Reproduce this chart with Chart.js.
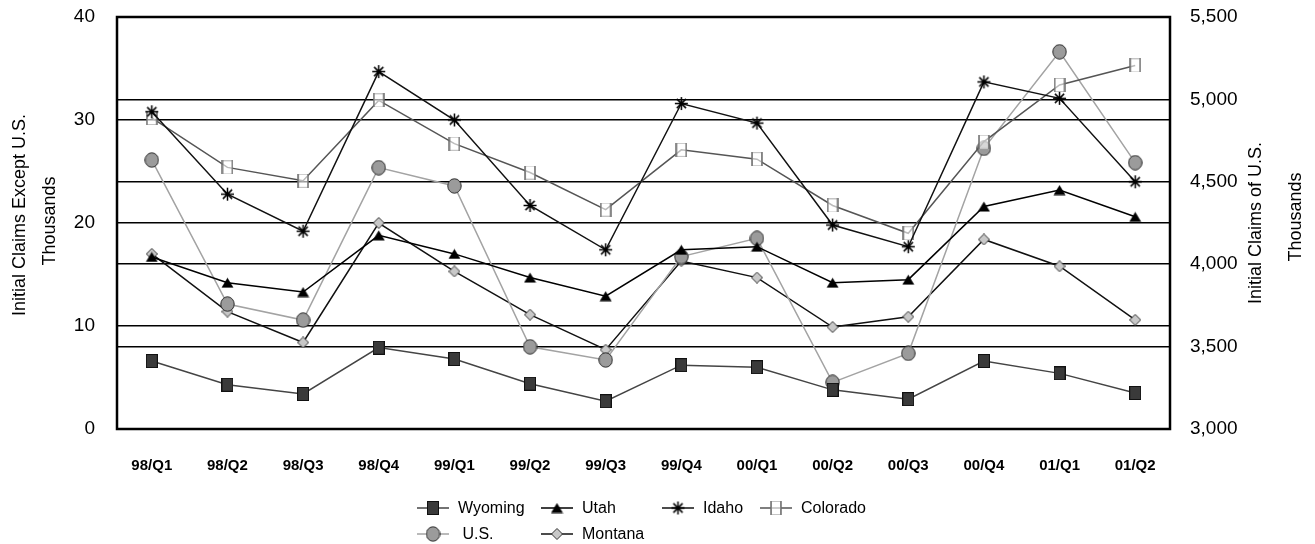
<!DOCTYPE html>
<html>
<head>
<meta charset="utf-8">
<script src="https://cdn.jsdelivr.net/npm/chart.js@4.4.1/dist/chart.umd.min.js"></script>
<style>
  html, body { margin: 0; padding: 0; background: #fff; }
</style>
</head>
<body>
<canvas id="claimsChart" width="1315" height="544"></canvas>
<script>
// quarterly initial claims, thousands (U.S. on its own right-hand axis)
const quarters = ['98/Q1', '98/Q2', '98/Q3', '98/Q4', '99/Q1', '99/Q2', '99/Q3',
                  '99/Q4', '00/Q1', '00/Q2', '00/Q3', '00/Q4', '01/Q1', '01/Q2'];
const wyoming  = [6.6, 4.3, 3.4, 7.9, 6.8, 4.4, 2.7, 6.2, 6.0, 3.8, 2.9, 6.6, 5.4, 3.5];
const utah     = [16.7, 14.2, 13.3, 18.8, 17.0, 14.7, 12.9, 17.4, 17.7, 14.2, 14.5, 21.6, 23.2, 20.6];
const idaho    = [30.8, 22.8, 19.2, 34.7, 30.0, 21.7, 17.4, 31.6, 29.7, 19.8, 17.7, 33.7, 32.1, 24.0];
const colorado = [30.2, 25.4, 24.1, 31.9, 27.7, 24.9, 21.3, 27.1, 26.2, 21.7, 19.0, 27.9, 33.4, 35.3];
const usTotal  = [4632, 3758, 3661, 4586, 4475, 3499, 3419, 4046, 4157, 3283, 3459, 4703, 5289, 4616];
const montana  = [17.0, 11.4, 8.4, 20.0, 15.3, 11.1, 7.7, 16.3, 14.7, 9.9, 10.9, 18.4, 15.8, 10.6];

const leftTicks  = { min: 0, max: 40, step: 10 };
const rightTicks = { min: 3000, max: 5500, step: 500 };
const leftTitle  = ['Initial Claims Except U.S.', 'Thousands'];
const rightTitle = ['Initial Claims of U.S.', 'Thousands'];

const FONT = '"Liberation Sans", Arial, Helvetica, sans-serif';

// small canvases used as point styles (and reused in the legend)
function marker(w, h, paint) {
  const c = document.createElement('canvas');
  c.width = w; c.height = h;
  paint(c.getContext('2d'), w, h);
  return c;
}

const squareMark = marker(12, 14, (ctx, w, h) => {
  ctx.fillStyle = '#3a3a3a';
  ctx.fillRect(0.5, 0.5, w - 1, h - 1);
  ctx.strokeStyle = '#111';
  ctx.lineWidth = 1;
  ctx.strokeRect(0.5, 0.5, w - 1, h - 1);
});

const triangleMark = marker(13, 11, (ctx, w, h) => {
  ctx.fillStyle = '#000';
  ctx.beginPath();
  ctx.moveTo(w / 2, 0.5);
  ctx.lineTo(w - 0.5, h - 0.5);
  ctx.lineTo(0.5, h - 0.5);
  ctx.closePath();
  ctx.fill();
});

const starMark = marker(15, 15, (ctx, w, h) => {
  const cx = w / 2, cy = h / 2, r = 6.5, d = 4.6;
  ctx.strokeStyle = '#000';
  ctx.lineWidth = 1.5;
  ctx.beginPath();
  ctx.moveTo(cx, cy - r); ctx.lineTo(cx, cy + r);
  ctx.moveTo(cx - r, cy); ctx.lineTo(cx + r, cy);
  ctx.moveTo(cx - d, cy - d); ctx.lineTo(cx + d, cy + d);
  ctx.moveTo(cx - d, cy + d); ctx.lineTo(cx + d, cy - d);
  ctx.stroke();
});

const barSquareMark = marker(12, 14, (ctx, w, h) => {
  ctx.fillStyle = 'rgba(255,255,255,0.6)';
  ctx.fillRect(1, 1, w - 2, h - 2);
  ctx.strokeStyle = '#c4c4c4';
  ctx.lineWidth = 1;
  ctx.strokeRect(1.5, 0.5, w - 3, h - 1);
  ctx.strokeStyle = '#6e6e6e';
  ctx.lineWidth = 1.5;
  ctx.beginPath();
  ctx.moveTo(1, 0); ctx.lineTo(1, h);
  ctx.moveTo(w - 1, 0); ctx.lineTo(w - 1, h);
  ctx.stroke();
});

const circleMark = marker(15, 16, (ctx, w, h) => {
  ctx.fillStyle = '#9b9b9b';
  ctx.strokeStyle = '#2a2a2a';
  ctx.lineWidth = 1;
  ctx.beginPath();
  ctx.ellipse(w / 2, h / 2, w / 2 - 0.8, h / 2 - 0.8, 0, 0, Math.PI * 2);
  ctx.fill();
  ctx.stroke();
});

const diamondMark = marker(12, 12, (ctx, w, h) => {
  ctx.fillStyle = '#c8c8c8';
  ctx.strokeStyle = '#333';
  ctx.lineWidth = 1;
  ctx.beginPath();
  ctx.moveTo(w / 2, 0.5);
  ctx.lineTo(w - 0.5, h / 2);
  ctx.lineTo(w / 2, h - 0.5);
  ctx.lineTo(0.5, h / 2);
  ctx.closePath();
  ctx.fill();
  ctx.stroke();
});

const points = (arr) => arr.map((v, i) => ({ x: i, y: v }));

function series(label, values, color, mark, axis) {
  return {
    label: label,
    data: points(values),
    yAxisID: axis || 'y',
    borderColor: color,
    borderWidth: 1.5,
    backgroundColor: color,
    pointStyle: mark,
    pointRadius: 6,
    pointHoverRadius: 6,
    tension: 0,
    fill: false
  };
}

const datasets = [
  series('Wyoming', wyoming, '#444444', squareMark),
  series('Utah', utah, '#000000', triangleMark),
  series('Idaho', idaho, '#111111', starMark),
  series('Colorado', colorado, '#555555', barSquareMark),
  series(' U.S.', usTotal, '#a3a3a3', circleMark, 'y1'),
  series('Montana', montana, '#111111', diamondMark)
];

// legend slots: column start x, row y
const legendCols = [417, 541, 662, 760];
const legendRows = [508, 534];
const legendSlots = [[0, 0], [1, 0], [2, 0], [3, 0], [0, 1], [1, 1]];

const decorations = {
  id: 'decorations',
  beforeDatasetsDraw(chart) {
    const { ctx, chartArea: a } = chart;
    ctx.save();
    ctx.strokeStyle = '#000';
    ctx.lineWidth = 2.5;
    ctx.strokeRect(a.left, a.top, a.right - a.left, a.bottom - a.top);
    ctx.restore();
  },
  afterDraw(chart) {
    const ctx = chart.ctx;
    ctx.save();
    ctx.fillStyle = '#000';

    // rotated axis titles, both reading bottom to top
    ctx.font = '18px ' + FONT;
    ctx.textAlign = 'center';
    ctx.textBaseline = 'middle';
    const titleLines = [
      [leftTitle[0], 20, 215], [leftTitle[1], 50, 221],
      [rightTitle[0], 1256, 223], [rightTitle[1], 1296, 217]
    ];
    titleLines.forEach(([txt, x, y]) => {
      ctx.save();
      ctx.translate(x, y);
      ctx.rotate(-Math.PI / 2);
      ctx.fillText(txt, 0, 0);
      ctx.restore();
    });

    // legend
    ctx.font = '16px ' + FONT;
    ctx.textAlign = 'left';
    chart.data.datasets.forEach((ds, i) => {
      const [c, r] = legendSlots[i];
      const x = legendCols[c], y = legendRows[r];
      ctx.strokeStyle = ds.borderColor;
      ctx.lineWidth = 1.5;
      ctx.beginPath();
      ctx.moveTo(x, y);
      ctx.lineTo(x + 32, y);
      ctx.stroke();
      const m = ds.pointStyle;
      ctx.drawImage(m, x + 16 - m.width / 2, y - m.height / 2);
      ctx.fillText(ds.label, x + 41, y + 1);
    });
    ctx.restore();
  }
};

// keep the plot box fixed; tick labels may overhang it
function fixVertical(width) {
  return (s) => { s.width = width; s.paddingTop = 0; s.paddingBottom = 0; };
}

new Chart(document.getElementById('claimsChart'), {
  type: 'line',
  data: { datasets: datasets },
  options: {
    responsive: false,
    animation: false,
    events: [],
    layout: { padding: { top: 17, left: 0, right: 0, bottom: 0 } },
    plugins: {
      legend: { display: false },
      tooltip: { enabled: false },
      title: { display: false }
    },
    scales: {
      x: {
        type: 'linear',
        min: -0.46,
        max: 13.46,
        afterBuildTicks: (s) => { s.ticks = quarters.map((q, i) => ({ value: i })); },
        afterFit: (s) => { s.height = 115; s.paddingLeft = 0; s.paddingRight = 0; },
        grid: { display: false },
        border: { display: false },
        ticks: {
          autoSkip: false,
          maxRotation: 0,
          padding: 20,
          color: '#000',
          font: { family: FONT, size: 15, weight: 'bold' },
          callback: (v) => quarters[v]
        }
      },
      y: {
        position: 'left',
        min: leftTicks.min,
        max: leftTicks.max,
        afterFit: fixVertical(117),
        grid: { color: '#000', lineWidth: 1.5, drawTicks: false },
        border: { display: false },
        ticks: {
          stepSize: leftTicks.step,
          padding: 22,
          color: '#000',
          font: { family: FONT, size: 19 }
        }
      },
      y1: {
        position: 'right',
        min: rightTicks.min,
        max: rightTicks.max,
        afterFit: fixVertical(145),
        grid: { color: '#000', lineWidth: 1.5, drawTicks: false },
        border: { display: false },
        ticks: {
          stepSize: rightTicks.step,
          padding: 20,
          color: '#000',
          font: { family: FONT, size: 19 },
          callback: (v) => v.toLocaleString('en-US')
        }
      }
    }
  },
  plugins: [decorations]
});
</script>
</body>
</html>
